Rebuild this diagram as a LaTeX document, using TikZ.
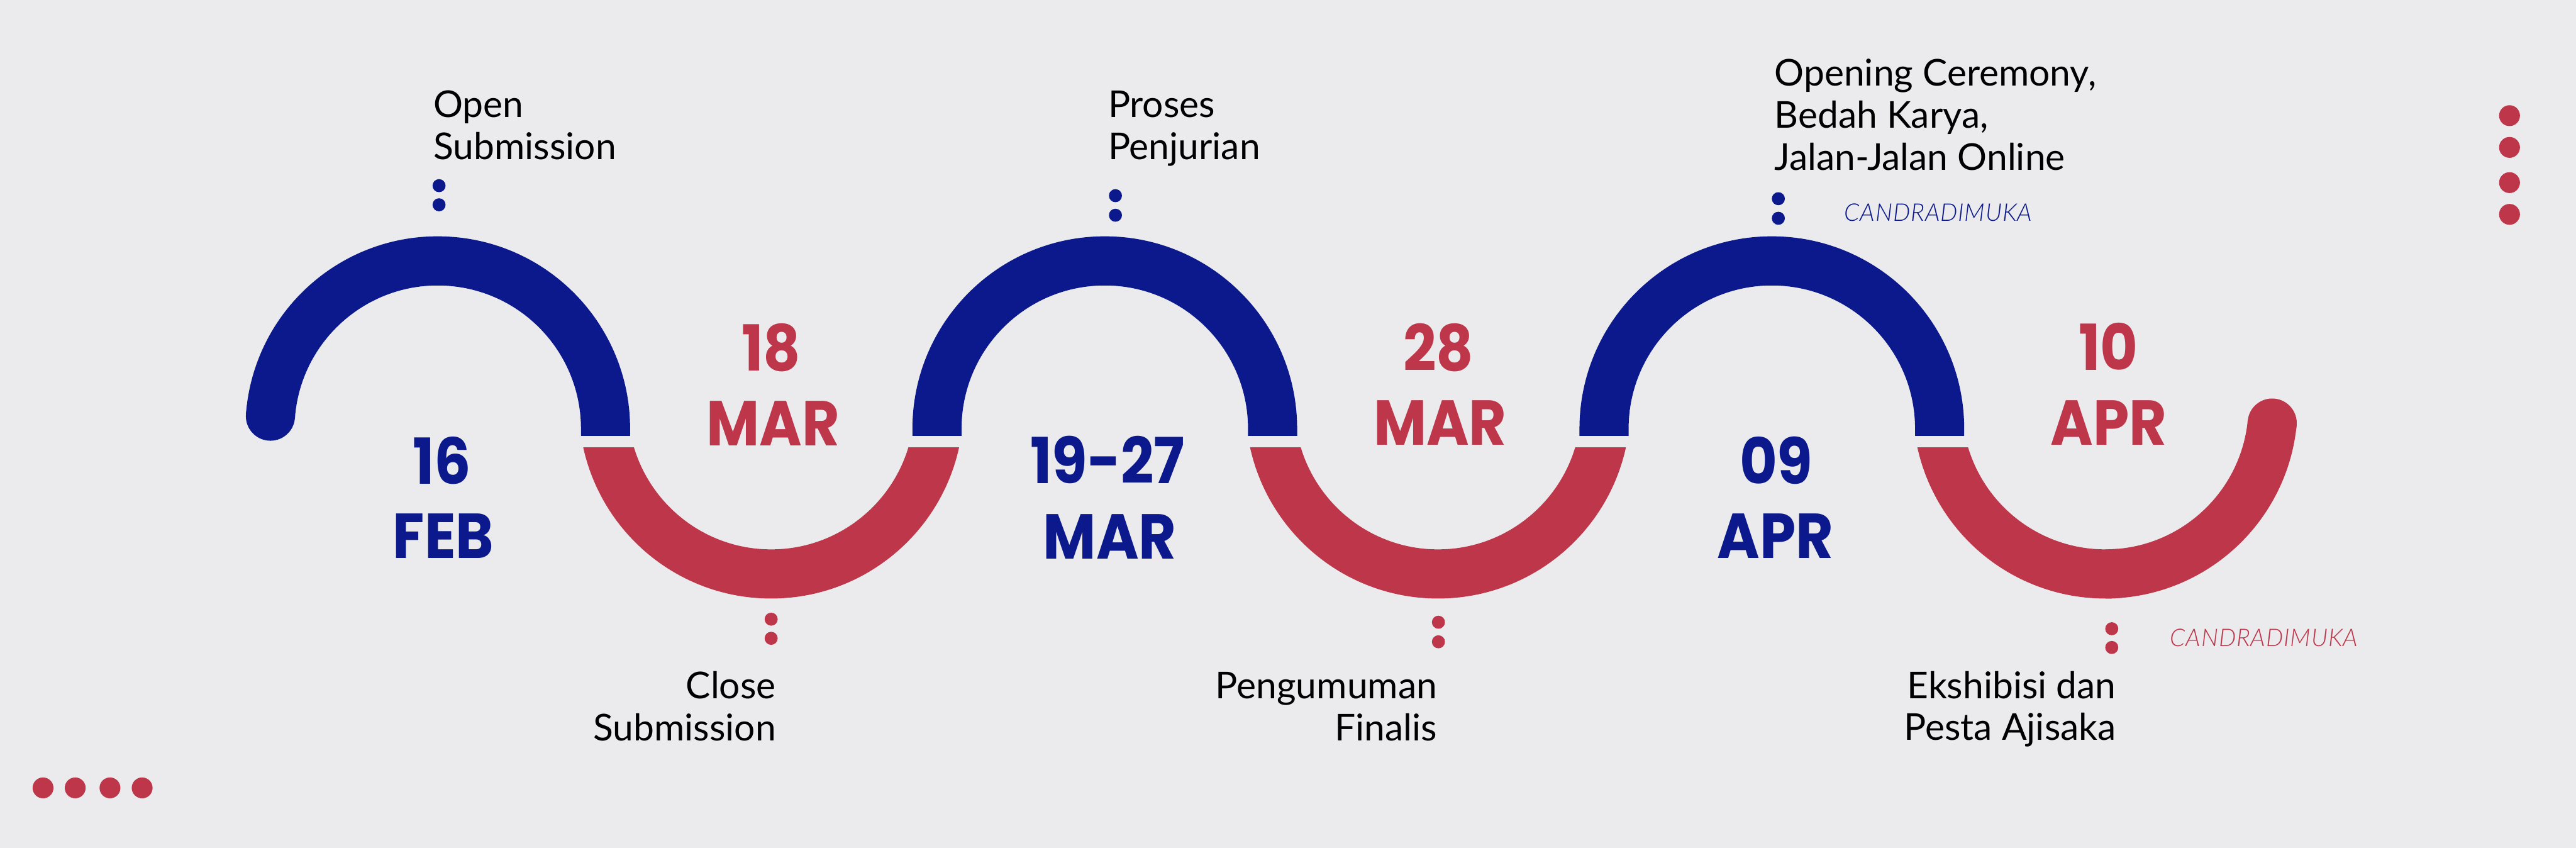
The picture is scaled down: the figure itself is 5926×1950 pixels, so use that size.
\documentclass[tikz,border=0pt]{standalone}
\usepackage{fontspec}
\setmainfont{Lato}[ItalicFont=* Light Italic]
\newfontfamily\datefamily{Poppins}[FakeStretch=0.91]
\definecolor{bgc}{RGB}{235,235,238}
\definecolor{tblue}{RGB}{11,25,140}
\definecolor{tred}{RGB}{190,54,74}
\newcommand\bodyfnt{\fontsize{85}{97}\selectfont}
\newcommand\datefnt{\datefamily\bfseries\fontsize{146}{170}\selectfont}
\newcommand\candfnt{\itshape\fontsize{56}{64}\selectfont\addfontfeatures{LetterSpace=2}}
\begin{document}
\begin{tikzpicture}[x=1pt,y=1pt,
  lbl/.style={inner sep=0pt, font=\bodyfnt, text=black},
  datelbl/.style={inner sep=0pt, font=\datefnt, anchor=base},
  cand/.style={inner sep=0pt, font=\candfnt, anchor=base west},
  bdot/.style={circle, inner sep=0pt, minimum size=30pt, fill=tblue},
  rdot/.style={circle, inner sep=0pt, minimum size=30pt, fill=tred},
  decodot/.style={circle, inner sep=0pt, minimum size=48pt, fill=tred},
  barc/.style={draw=tblue, line width=113pt},
  rarc/.style={draw=tred, line width=113pt}]
\useasboundingbox (0,0) rectangle (5926,-1950);
\fill[bgc] (0,0) rectangle (5926,-1950);

% blue upper arcs
\begin{scope}
\clip (0,0) rectangle (5926,-1002);
\draw[barc] (1007,-986) ++(175.7:386pt) arc[start angle=175.7, end angle=0, radius=386pt] -- (1393,-1020);
\draw[barc] (2155.5,-1020) -- (2155.5,-986) arc[start angle=180, end angle=0, radius=386pt] -- (2927.5,-1020);
\draw[barc] (3690,-1020) -- (3690,-986) arc[start angle=180, end angle=0, radius=386pt] -- (4462,-1020);
\end{scope}
\fill[tblue] (1007,-986) ++(175.7:386pt) circle[radius=56.5pt];

% red lower arcs
\begin{scope}
\clip (0,-1030) rectangle (5926,-1950);
\draw[rarc] (1388,-934) arc[start angle=180, end angle=360, radius=386pt];
\draw[rarc] (2922,-934) arc[start angle=180, end angle=360, radius=386pt];
\draw[rarc] (4457,-934) arc[start angle=180, end angle=275, radius=386pt];
\end{scope}
\draw[rarc] (4843,-934) ++(270:386pt) arc[start angle=270, end angle=354.2, radius=386pt];
\fill[tred] (4843,-934) ++(354.2:386pt) circle[radius=56.5pt];

% upper labels
\node[lbl, anchor=base west] (os1) at (997,-270.5) {Open};
\node[lbl, anchor=base west] (os2) at (997,-367) {Submission};
\node[lbl, anchor=base west] (pp1) at (2549,-270) {Proses};
\node[lbl, anchor=base west] (pp2) at (2549,-366.5) {Penjurian};
\node[lbl, anchor=base west] (oc1) at (4082,-198) {Opening Ceremony,};
\node[lbl, anchor=base west] (oc2) at (4082,-295) {Bedah Karya,};
\node[lbl, anchor=base west] (oc3) at (4082,-392) {Jalan-Jalan Online};
\node[cand, text=tblue] (cand1) at (4243,-509) {CANDRADIMUKA};

% lower labels
\node[lbl, anchor=base east] (cs1) at (1785,-1606) {Close};
\node[lbl, anchor=base east] (cs2) at (1785,-1703) {Submission};
\node[lbl, anchor=base east] (pf1) at (3306,-1606) {Pengumuman};
\node[lbl, anchor=base east] (pf2) at (3306,-1703) {Finalis};
\node[lbl, anchor=base east] (ep1) at (4868,-1606) {Ekshibisi dan};
\node[lbl, anchor=base east] (ep2) at (4868,-1702) {Pesta Ajisaka};
\node[cand, text=tred] (cand2) at (4992,-1487) {CANDRADIMUKA};

% dots
\node[bdot] (bd1a) at (1010,-427) {};
\node[bdot] (bd1b) at (1010,-471) {};
\node[bdot] (bd2a) at (2566,-450) {};
\node[bdot] (bd2b) at (2566,-495) {};
\node[bdot] (bd3a) at (4091,-457) {};
\node[bdot] (bd3b) at (4091,-502) {};
\node[rdot] (rd1a) at (1774,-1424) {};
\node[rdot] (rd1b) at (1774,-1468) {};
\node[rdot] (rd2a) at (3309,-1431) {};
\node[rdot] (rd2b) at (3309,-1476) {};
\node[rdot] (rd3a) at (4858,-1446) {};
\node[rdot] (rd3b) at (4858,-1489) {};

% dates
\node[datelbl, text=tblue] (d1a) at (1017,-1113) {16};
\node[datelbl, text=tblue] (d1b) at (1020,-1284) {FEB};
\node[datelbl, text=tred] (d2a) at (1774,-853) {18};
\node[datelbl, text=tred] (d2b) at (1778,-1025) {MAR};
\node[datelbl, text=tblue] (d3a) at (2548,-1112) {19-27};
\node[datelbl, text=tblue] (d3b) at (2553,-1285) {MAR};
\node[datelbl, text=tred] (d4a) at (3309,-853) {28};
\node[datelbl, text=tred] (d4b) at (3313,-1024) {MAR};
\node[datelbl, text=tblue] (d5a) at (4086,-1113) {09};
\node[datelbl, text=tblue] (d5b) at (4084,-1284) {APR};
\node[datelbl, text=tred] (d6a) at (4850,-852) {10};
\node[datelbl, text=tred] (d6b) at (4851,-1024) {APR};

% decorative dots
\node[decodot] (tr1) at (5773,-266) {};
\node[decodot] (tr2) at (5773,-339) {};
\node[decodot] (tr3) at (5773,-420) {};
\node[decodot] (tr4) at (5773,-493) {};
\node[decodot] (bl1) at (99,-1812) {};
\node[decodot] (bl2) at (173,-1812) {};
\node[decodot] (bl3) at (253,-1812) {};
\node[decodot] (bl4) at (327,-1812) {};
\end{tikzpicture}
\end{document}
